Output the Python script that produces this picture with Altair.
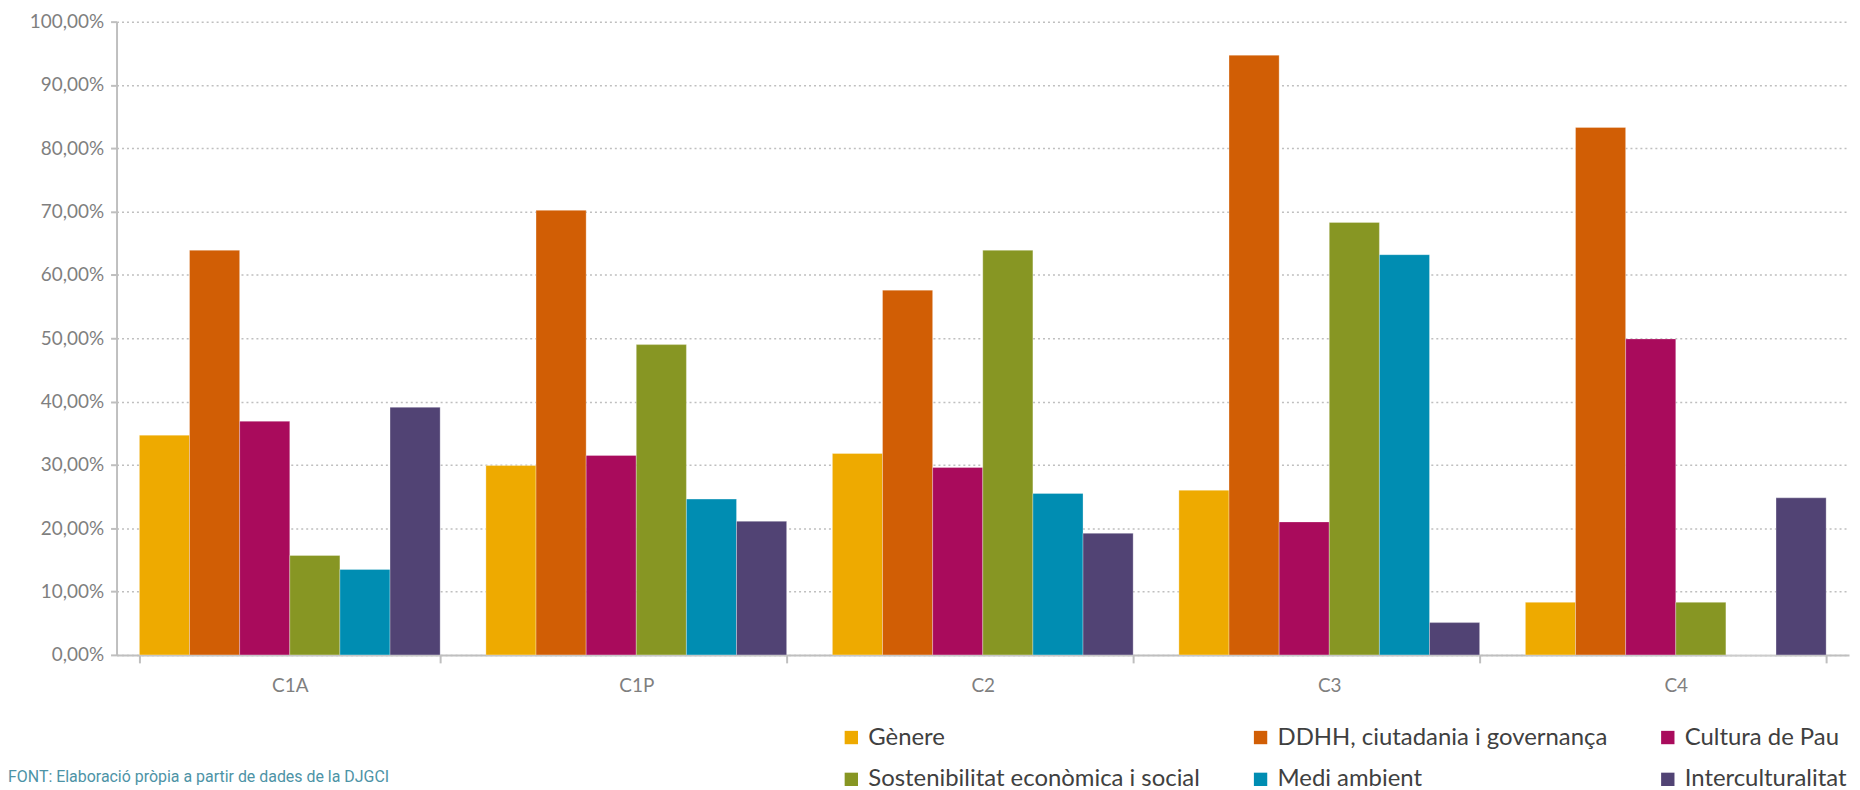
import altair as alt
import pandas as pd

categories = ["C1A", "C1P", "C2", "C3", "C4"]
series = [
    "Gènere",
    "DDHH, ciutadania i governança",
    "Cultura de Pau",
    "Sostenibilitat econòmica i social",
    "Medi ambient",
    "Interculturalitat",
]
colors = ["#EEAA00", "#D15E05", "#A90B5C", "#879623", "#008DB2", "#514374"]
# legend fills column by column, so list it so that rows read in series order
legend_order = [0, 3, 1, 4, 2, 5]

genere = [0.347, 0.299, 0.318, 0.260, 0.083]
ddhh = [0.639, 0.702, 0.576, 0.947, 0.833]
cultura = [0.369, 0.315, 0.296, 0.210, 0.499]
sostenibilitat = [0.157, 0.490, 0.639, 0.683, 0.083]
medi = [0.135, 0.246, 0.255, 0.632, 0.0]
intercult = [0.391, 0.211, 0.192, 0.051, 0.248]

y_ticks = [i / 10 for i in range(11)]
footer = "FONT: Elaboració pròpia a partir de dades de la DJGCI"

rows = []
for s, vals in zip(series, [genere, ddhh, cultura, sostenibilitat, medi, intercult]):
    for c, v in zip(categories, vals):
        rows.append({"cat": c, "serie": s, "value": v})
df = pd.DataFrame(rows)

axis_gray = "#BFBFBF"
label_gray = "#7F7F7F"

bars = alt.Chart(df).mark_bar(stroke="white", strokeWidth=0.6, strokeOpacity=0.5).encode(
    x=alt.X(
        "cat:N",
        sort=categories,
        title=None,
        scale=alt.Scale(paddingInner=0.132, paddingOuter=0.066),
        axis=alt.Axis(
            labelAngle=0,
            tickBand="extent",
            grid=False,
            domainColor=axis_gray,
            domainWidth=2,
            tickColor=axis_gray,
            tickWidth=2,
            tickSize=8,
            labelFont="Lato",
            labelFontSize=19,
            labelColor=label_gray,
            labelPadding=14,
        ),
    ),
    xOffset=alt.XOffset("serie:N", sort=series, scale=alt.Scale(paddingInner=0, paddingOuter=0)),
    y=alt.Y(
        "value:Q",
        title=None,
        scale=alt.Scale(domain=[0, 1], nice=False),
        axis=alt.Axis(
            values=y_ticks,
            labelExpr="replace(format(datum.value, '.2%'), '.', ',')",
            grid=True,
            gridColor=axis_gray,
            gridDash=[2, 3],
            gridWidth=1.5,
            domainColor=axis_gray,
            domainWidth=2,
            tickColor=axis_gray,
            tickWidth=2,
            tickSize=6,
            labelFont="Lato",
            labelFontSize=19,
            labelColor=label_gray,
            labelPadding=7,
        ),
    ),
    color=alt.Color(
        "serie:N",
        scale=alt.Scale(
            domain=[series[i] for i in legend_order],
            range=[colors[i] for i in legend_order],
        ),
        legend=alt.Legend(
            title=None,
            orient="none",
            legendX=726,
            legendY=707,
            columns=3,
            symbolType="square",
            symbolSize=180,
            symbolStrokeWidth=0,
            labelFont="Lato",
            labelFontSize=24,
            labelColor="#404040",
            labelOffset=5,
            labelExpr="(indexof(datum.label, 'DDHH') == 0 ? '\u00a0' : '') + datum.label",
            columnPadding=48,
            rowPadding=18,
            labelLimit=600,
        ),
    ),
)

foot = alt.Chart(pd.DataFrame({"t": [footer]})).mark_text(
    align="left", baseline="top", font="Roboto", fontSize=16, color="#4D93A6"
).encode(text="t:N", x=alt.value(-109), y=alt.value(751))

chart = (
    alt.layer(bars, foot)
    .properties(
        width=1740,
        height=636,
        autosize=alt.AutoSizeParams(type="none"),
        padding={"left": 109, "top": 12, "right": 3, "bottom": 134},
    )
    .configure_view(stroke=None)
)

chart.save("out.html", embed_options={"renderer": "svg", "actions": False})
